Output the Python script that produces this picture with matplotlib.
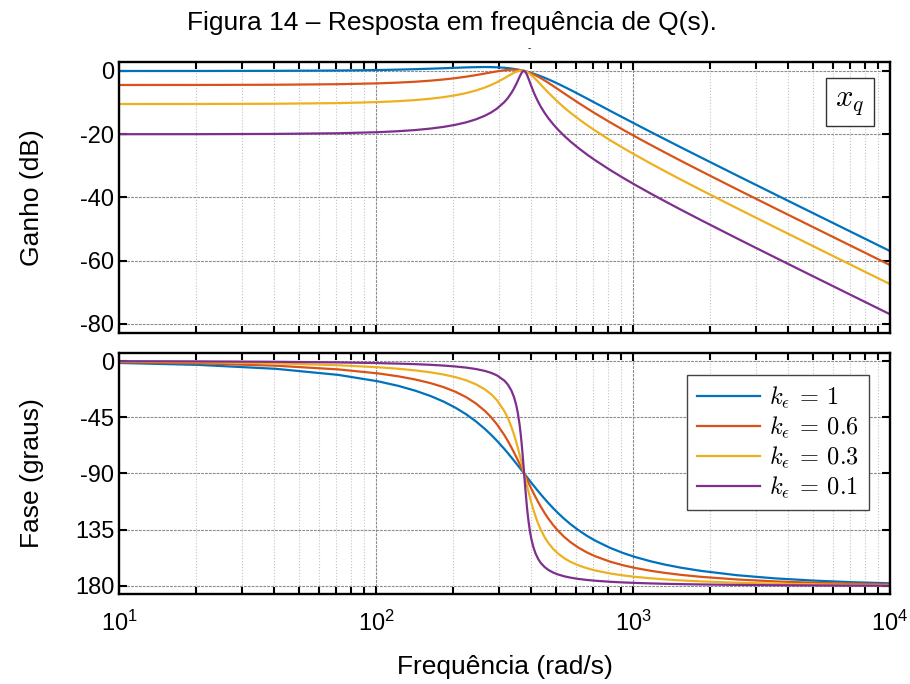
import matplotlib
matplotlib.use("Agg")
import matplotlib.pyplot as plt
from matplotlib.ticker import NullFormatter, LogLocator
from matplotlib.font_manager import FontProperties

plt.rcParams['font.family'] = ['Liberation Sans', 'DejaVu Sans']
plt.rcParams['mathtext.fontset'] = 'cm'

# frequência (rad/s)
w = [10, 20.38, 40.76, 71.32, 101.9,
     122.3, 142.6, 163.0, 183.4, 203.8,
     224.2, 244.5, 264.9, 280.2, 295.5,
     315.9, 326.1, 336.2, 344.4, 351.5,
     356.6, 361.7, 365.3, 368.9, 371.9,
     373.9, 375.5, 377, 378.5, 380.1,
     382.1, 385.2, 388.2, 392.3, 397.4,
     402.5, 409.6, 417.8, 427.9, 438.1,
     453.4, 468.7, 489.1, 509.5, 540.0,
     570.6, 611.4, 662.3, 713.2, 815.1,
     917.0, 1019, 1172, 1325, 1528,
     1834, 2547, 3566, 5095, 7132,
     10000]

# ganho (dB)
gain_k1 = [0.00, 0.01, 0.05, 0.15, 0.30,
           0.43, 0.57, 0.72, 0.87, 1.01,
           1.13, 1.21, 1.25, 1.23, 1.17,
           1.02, 0.91, 0.77, 0.65, 0.52,
           0.43, 0.33, 0.26, 0.18, 0.12,
           0.07, 0.04, 0.00, -0.04, -0.07,
           -0.12, -0.19, -0.27, -0.37, -0.51,
           -0.64, -0.84, -1.07, -1.37, -1.68,
           -2.16, -2.66, -3.32, -4.00, -5.00,
           -5.97, -7.23, -8.72, -10.10, -12.60,
           -14.78, -16.73, -19.28, -21.49, -24.06,
           -27.30, -33.10, -38.99, -45.21, -51.06,
           -56.94]
gain_k06 = [-4.43, -4.42, -4.35, -4.18, -3.91,
            -3.67, -3.39, -3.06, -2.68, -2.26,
            -1.80, -1.31, -0.81, -0.45, -0.12,
            0.23, 0.34, 0.40, 0.41, 0.38,
            0.34, 0.28, 0.23, 0.17, 0.11,
            0.07, 0.03, 0.00, -0.04, -0.07,
            -0.13, -0.21, -0.30, -0.42, -0.59,
            -0.77, -1.04, -1.37, -1.82, -2.29,
            -3.01, -3.75, -4.74, -5.71, -7.10,
            -8.40, -10.00, -11.81, -13.44, -16.25,
            -18.64, -20.71, -23.38, -25.68, -28.31,
            -31.62, -37.47, -43.39, -49.63, -55.49,
            -61.37]
gain_k03 = [-10.45, -10.43, -10.36, -10.16, -9.83,
            -9.54, -9.19, -8.77, -8.27, -7.68,
            -6.99, -6.18, -5.24, -4.44, -3.56,
            -2.28, -1.63, -1.01, -0.57, -0.25,
            -0.08, 0.04, 0.09, 0.10, 0.08,
            0.06, 0.03, 0.00, -0.04, -0.08,
            -0.15, -0.27, -0.42, -0.64, -0.96,
            -1.33, -1.88, -2.57, -3.45, -4.34,
            -5.64, -6.86, -8.37, -9.74, -11.57,
            -13.18, -15.07, -17.11, -18.89, -21.90,
            -24.39, -26.52, -29.26, -31.59, -34.26,
            -37.58, -43.46, -49.40, -55.64, -61.51,
            -67.39]
gain_k01 = [-19.99, -19.98, -19.90, -19.69, -19.35,
            -19.04, -18.67, -18.21, -17.67, -17.02,
            -16.25, -15.31, -14.17, -13.14, -11.90,
            -9.82, -8.51, -6.97, -5.53, -4.11,
            -3.01, -1.91, -1.18, -0.57, -0.19,
            -0.04, 0.01, 0.00, -0.06, -0.18,
            -0.42, -0.92, -1.54, -2.47, -3.70,
            -4.90, -6.47, -8.08, -9.83, -11.35,
            -13.30, -14.96, -16.84, -18.46, -20.52,
            -22.28, -24.29, -26.42, -28.25, -31.32,
            -33.84, -36.00, -38.76, -41.10, -43.77,
            -47.11, -53.00, -58.94, -65.18, -71.05,
            -76.93]

# fase (graus)
phase_k1 = [-1.55, -3.10, -6.24, -11.10, -16.26,
            -19.92, -23.83, -28.01, -32.51, -37.37,
            -42.61, -48.23, -54.23, -58.94, -63.80,
            -70.42, -73.76, -77.08, -79.73, -82.03,
            -83.66, -85.27, -86.39, -87.50, -88.44,
            -89.07, -89.53, -90.00, -90.46, -90.93,
            -91.54, -92.45, -93.35, -94.54, -96.01,
            -97.46, -99.43, -101.62, -104.26, -106.79,
            -110.37, -113.70, -117.76, -121.44, -126.29,
            -130.46, -135.14, -139.90, -143.74, -149.53,
            -153.68, -156.80, -160.26, -162.79, -165.28,
            -167.89, -171.40, -173.90, -175.74, -176.97,
            -177.84]
phase_k06 = [-0.93, -1.86, -3.75, -6.71, -9.92,
             -12.27, -14.84, -17.70, -20.93, -24.62,
             -28.89, -33.90, -39.79, -44.89, -50.64,
             -59.33, -64.09, -69.08, -73.20, -76.86,
             -79.50, -82.15, -83.99, -85.84, -87.40,
             -88.45, -89.22, -90.00, -90.77, -91.54,
             -92.56, -94.08, -95.58, -97.54, -99.96,
             -102.31, -105.47, -108.92, -112.96, -116.70,
             -121.74, -126.19, -131.26, -135.54, -140.75,
             -144.87, -149.16, -153.19, -156.25, -160.56,
             -163.47, -165.58, -167.85, -169.47, -171.04,
             -172.66, -174.81, -176.33, -177.44, -178.18,
             -178.70]
phase_k03 = [-0.46, -0.93, -1.88, -3.37, -5.00,
             -6.21, -7.55, -9.07, -10.82, -12.90,
             -15.43, -18.57, -22.61, -26.48, -31.37,
             -40.14, -45.83, -52.61, -58.87, -64.98,
             -69.66, -74.58, -78.11, -81.72, -84.82,
             -86.90, -88.45, -90.00, -91.54, -93.08,
             -95.11, -98.12, -101.05, -104.83, -109.35,
             -113.57, -118.97, -124.43, -130.27, -135.16,
             -141.05, -145.64, -150.32, -153.86, -157.78,
             -160.62, -163.38, -165.82, -167.59, -169.99,
             -171.56, -172.67, -173.85, -174.69, -175.49,
             -176.32, -177.40, -178.16, -178.72, -179.09,
             -179.35]
phase_k01 = [-0.15, -0.31, -0.63, -1.12, -1.67,
             -2.08, -2.53, -3.04, -3.65, -4.37,
             -5.26, -6.39, -7.90, -9.43, -11.49,
             -15.70, -18.94, -23.56, -28.90, -35.52,
             -41.97, -50.39, -57.72, -66.40, -74.78,
             -80.76, -85.36, -90.00, -94.62, -99.17,
             -105.02, -113.16, -120.37, -128.46, -136.49,
             -142.62, -148.95, -154.07, -158.53, -161.67,
             -164.93, -167.16, -169.25, -170.71, -172.25,
             -173.31, -174.32, -175.19, -175.80, -176.63,
             -177.17, -177.55, -177.94, -178.23, -178.50,
             -178.77, -179.13, -179.39, -179.57, -179.70,
             -179.78]

labels = [r'$k_\epsilon \:=\: 1$', r'$k_\epsilon \:=\: 0.6$',
          r'$k_\epsilon \:=\: 0.3$', r'$k_\epsilon \:=\: 0.1$']
colors = ['#0072BD', '#D95319', '#EDB120', '#7E2F8E']
gains = [gain_k1, gain_k06, gain_k03, gain_k01]
phases = [phase_k1, phase_k06, phase_k03, phase_k01]

gain_ticks = [0, -20, -40, -60, -80]
gain_ticklabels = ['0', '-20', '-40', '-60', '-80']
phase_ticks = [0, -45, -90, -135, -180]
phase_ticklabels = ['0', '-45', '-90', '135', '180']
freq_ticks = [10, 100, 1000, 10000]
freq_ticklabels = [r'$\mathregular{10^{1}}$', r'$\mathregular{10^{2}}$',
                   r'$\mathregular{10^{3}}$', r'$\mathregular{10^{4}}$']

fig = plt.figure(figsize=(9.1, 6.84), dpi=100)
ax1 = fig.add_axes([0.1308, 0.5132, 0.8472, 0.3962])
ax2 = fig.add_axes([0.1308, 0.1316, 0.8472, 0.3523])

for ax in (ax1, ax2):
    ax.set_xscale('log')
    ax.set_xlim(10, 10000)
    ax.xaxis.set_major_locator(LogLocator(base=10))
    ax.xaxis.set_minor_locator(LogLocator(base=10, subs=range(2, 10)))
    ax.xaxis.set_minor_formatter(NullFormatter())
    ax.grid(which='major', color='#8c8c8c', linestyle='--', linewidth=0.8, dashes=(2.5, 1))
    ax.grid(which='minor', axis='x', color='#c4c4c4', linestyle=':', linewidth=0.8)
    ax.tick_params(which='both', direction='in', top=True, right=True, width=1.5)
    ax.tick_params(which='major', length=6, labelsize=17)
    ax.tick_params(which='minor', length=5)
    for s in ax.spines.values():
        s.set_linewidth(1.7)
    ax.set_axisbelow(True)

for g, c in zip(gains, colors):
    ax1.plot(w, g, color=c, linewidth=1.6)
for p, c, l in zip(phases, colors, labels):
    ax2.plot(w, p, color=c, linewidth=1.6, label=l)

ax1.set_ylim(-82.85, 2.85)
ax1.set_yticks(gain_ticks)
ax1.set_yticklabels(gain_ticklabels)
ax1.set_xticks(freq_ticks)
ax1.tick_params(axis='x', labelbottom=False)
ax1.set_ylabel('Ganho (dB)', fontsize=19)
ax1.yaxis.set_label_coords(-0.097, 0.5)

ax2.set_ylim(-186.4, 6.4)
ax2.set_yticks(phase_ticks)
ax2.set_yticklabels(phase_ticklabels)
ax2.set_xticks(freq_ticks)
ax2.set_xticklabels(freq_ticklabels, fontsize=17)
ax2.tick_params(axis='x', pad=12)
ax2.set_ylabel('Fase (graus)', fontsize=19)
ax2.yaxis.set_label_coords(-0.097, 0.5)
ax2.set_xlabel('Frequência (rad/s)', fontsize=19, labelpad=14)

ax1.text(0.948, 0.852, r'$x_q$', transform=ax1.transAxes, fontsize=22,
         ha='center', va='center',
         bbox=dict(boxstyle='square,pad=0.3', facecolor='white', edgecolor='#333333', linewidth=1))

leg = ax2.legend(loc='upper right', bbox_to_anchor=(0.973, 0.909), borderaxespad=0,
                 prop=FontProperties(size=17.5), fancybox=False, framealpha=1,
                 edgecolor='#444444', handlelength=2.6, handletextpad=0.4,
                 labelspacing=0.18, borderpad=0.4)
leg.get_frame().set_linewidth(1)

fig.text(0.497, 0.967, 'Figura 14 – Resposta em frequência de Q(s).', fontsize=19,
         ha='center', va='center')
fig.text(0.582, 0.93, '-', fontsize=7, ha='center', va='center')

fig.savefig('out.png', dpi=100)
